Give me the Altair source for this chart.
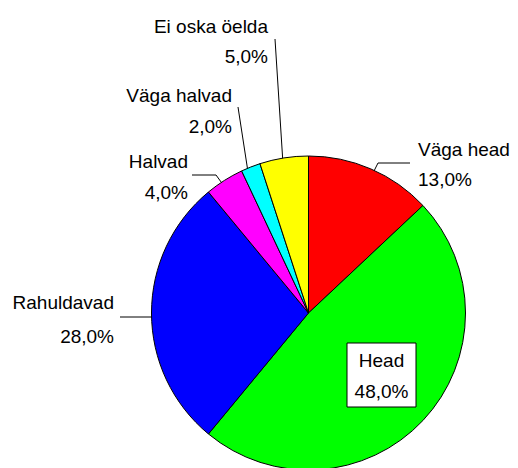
import altair as alt
import pandas as pd

# --- data ---
categories = ["Väga head", "Head", "Rahuldavad", "Halvad", "Väga halvad", "Ei oska öelda"]
shares = [13.0, 48.0, 28.0, 4.0, 2.0, 5.0]
colors = ["#FF0000", "#00FF00", "#0000FF", "#FF00FF", "#00FFFF", "#FFFF00"]

# --- layout (chart pixel coordinates) ---
W, H = 502, 460
CX, CY, R = 300.5, 305, 157
label_x = [410, 373.5, 106, 180, 224, 260]
label_y1 = [148, 359, 301, 160, 94, 25]
label_y2 = [178, 390, 335, 191, 125, 55]
label_align = ["left", "center", "right", "right", "right", "right"]
leaders = [  # x, y, x2, y2
    (365, 165, 370, 155), (370, 155, 402, 155),
    (275, 156, 267, 31),
    (240, 164, 230, 99),
    (184, 167, 208, 167), (208, 167, 216, 178),
    (112, 309, 156, 309),
]
box = (339, 335, 408, 399)

pie_df = pd.DataFrame({"cat": categories, "share": shares, "idx": list(range(len(categories)))})

rows = []
for i, c in enumerate(categories):
    pct = f"{shares[i]:.1f}".replace(".", ",") + "%"
    rows.append({"t": c, "x": label_x[i], "y": label_y1[i], "a": label_align[i]})
    rows.append({"t": pct, "x": label_x[i], "y": label_y2[i], "a": label_align[i]})
lab_df = pd.DataFrame(rows)

lead_df = pd.DataFrame(leaders, columns=["x", "y", "x2", "y2"])
box_df = pd.DataFrame([dict(zip(["x", "y", "x2", "y2"], box))])

rules = alt.Chart(lead_df).mark_rule(color="black", strokeWidth=1).encode(
    x=alt.X("x:Q", scale=None), y=alt.Y("y:Q", scale=None),
    x2="x2:Q", y2="y2:Q")

pie = alt.Chart(pie_df).mark_arc(radius=R, stroke="black", strokeWidth=1).encode(
    theta=alt.Theta("share:Q", stack=True),
    color=alt.Color("cat:N", scale=alt.Scale(domain=categories, range=colors), legend=None),
    order=alt.Order("idx:Q"),
    x=alt.value(CX), y=alt.value(CY))

boxm = alt.Chart(box_df).mark_rect(fill="white", stroke="black", strokeWidth=1).encode(
    x=alt.X("x:Q", scale=None), y=alt.Y("y:Q", scale=None), x2="x2:Q", y2="y2:Q")

texts = []
for al in ["left", "center", "right"]:
    texts.append(
        alt.Chart(lab_df[lab_df["a"] == al]).mark_text(
            align=al, baseline="alphabetic", font="Liberation Sans", fontSize=19, color="black"
        ).encode(x=alt.X("x:Q", scale=None), y=alt.Y("y:Q", scale=None), text="t:N"))

chart = alt.layer(rules, pie, boxm, *texts).properties(
    width=W, height=H, autosize=alt.AutoSizeParams(type="none"), padding=0
).configure_view(stroke=None)

chart.save("out.html", embed_options={"renderer": "svg", "actions": False})
